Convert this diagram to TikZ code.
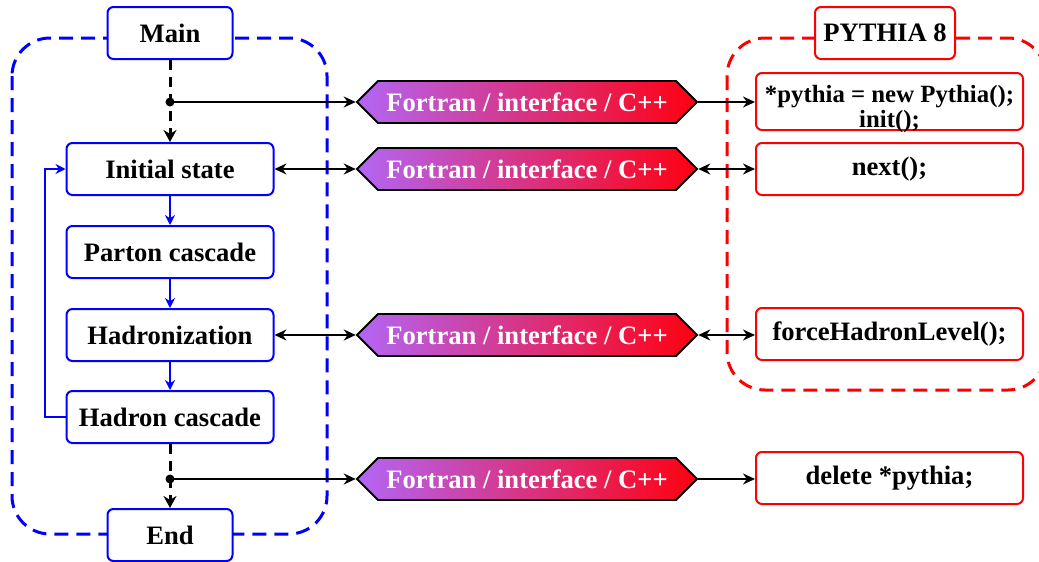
\documentclass[tikz,border=0pt]{standalone}
\usepackage{fontspec}
\setmainfont{Liberation Serif}
\usetikzlibrary{shapes.symbols,arrows.meta}
\definecolor{purp}{RGB}{178,102,245}
\definecolor{hred}{RGB}{255,0,16}
\begin{document}
\begin{tikzpicture}[x=0.5pt,y=-0.5pt,
  font=\fontsize{13.3}{14}\selectfont\bfseries,
  flowbox/.style={draw=blue,line width=1pt,rounded corners=3pt,fill=white,
    minimum width=103.5pt,minimum height=26pt,inner sep=0pt},
  endbox/.style={flowbox,minimum width=62.5pt},
  pybox/.style={draw=red,line width=1pt,rounded corners=3pt,fill=white,
    minimum width=133.5pt,minimum height=26pt,inner sep=0pt,align=center},
  hexa/.style={signal,signal to=west and east,draw=black,line width=0.9pt,
    left color=purp,right color=hred,text=white,
    minimum width=170pt,minimum height=21pt,inner sep=0pt},
  bluecont/.style={draw=blue,line width=1.5pt,dash pattern=on 7pt off 4pt,rounded corners=19pt},
  redcont/.style={draw=red,line width=1.5pt,dash pattern=on 7pt off 4pt,rounded corners=19pt},
  flowarrow/.style={draw=blue,line width=1pt,-{Stealth[length=5pt,width=5pt]}},
  dasharrow/.style={draw=black,line width=1.5pt,dash pattern=on 5pt off 3.5pt,
    -{Stealth[length=6pt,width=6.5pt]}},
  link/.style={draw=black,line width=0.9pt,-{Stealth[length=6pt,width=5.5pt]}},
  dlink/.style={draw=black,line width=0.9pt,{Stealth[length=6pt,width=5.5pt]}-{Stealth[length=6pt,width=5.5pt]}},
  dotmark/.style={fill=black,circle,inner sep=0pt,minimum size=4.5pt}
]
\useasboundingbox (0,0) rectangle (1039,562);
% containers
\draw[bluecont] (12,38) rectangle (327,534);
\draw[redcont] (727,38) rectangle (1046,390);
% left flow
\node[endbox] (main) at (170,33) {Main};
\node[flowbox] (init) at (170,169) {Initial state};
\node[flowbox] (parton) at (170,252) {Parton cascade};
\node[flowbox] (hadr) at (170,335) {Hadronization};
\node[flowbox] (hcasc) at (170,417) {Hadron cascade};
\node[endbox] (end) at (170,535) {End};
% pythia side
\node[pybox,minimum width=70pt] (py) at (885,33) {PYTHIA 8};
\node[pybox,minimum height=28.5pt] (p1) at (889.5,101.5)
  {\raisebox{-12.75pt}[0pt][0pt]{\fontsize{12.4}{12.5}\selectfont\begin{tabular}[b]{@{}c@{}}*pythia = new Pythia();\\init();\end{tabular}}};
\node[pybox] (p2) at (889.5,169) {next();};
\node[pybox] (p3) at (889.5,334) {forceHadronLevel();};
\node[pybox] (p4) at (889.5,478) {delete *pythia;};
% interfaces
\node[hexa] (h1) at (527,102) {Fortran / interface / C++};
\node[hexa] (h2) at (527,169) {Fortran / interface / C++};
\node[hexa] (h3) at (527,335) {Fortran / interface / C++};
\node[hexa] (h4) at (527,479) {Fortran / interface / C++};
% dots
\node[dotmark] (d1) at (170,102) {};
\node[dotmark] (d2) at (170,479) {};
% flow arrows
\draw[dasharrow] (main.south) -- (init.north);
\draw[dasharrow] (hcasc.south) -- (end.north);
\draw[flowarrow] (init) -- (parton);
\draw[flowarrow] (parton) -- (hadr);
\draw[flowarrow] (hadr) -- (hcasc);
\draw[flowarrow] (hcasc.west) -- ++(-21,0) |- (init.west);
% links
\draw[link] (d1.center) -- (h1.west);
\draw[link] (h1.east) -- (p1.west |- h1.east);
\draw[dlink] (init.east) -- (h2.west);
\draw[dlink] (h2.east) -- (p2.west);
\draw[dlink] (hadr.east) -- (h3.west);
\draw[dlink] (h3.east) -- (p3.west |- h3.east);
\draw[link] (d2.center) -- (h4.west);
\draw[link] (h4.east) -- (p4.west |- h4.east);
\end{tikzpicture}
\end{document}
